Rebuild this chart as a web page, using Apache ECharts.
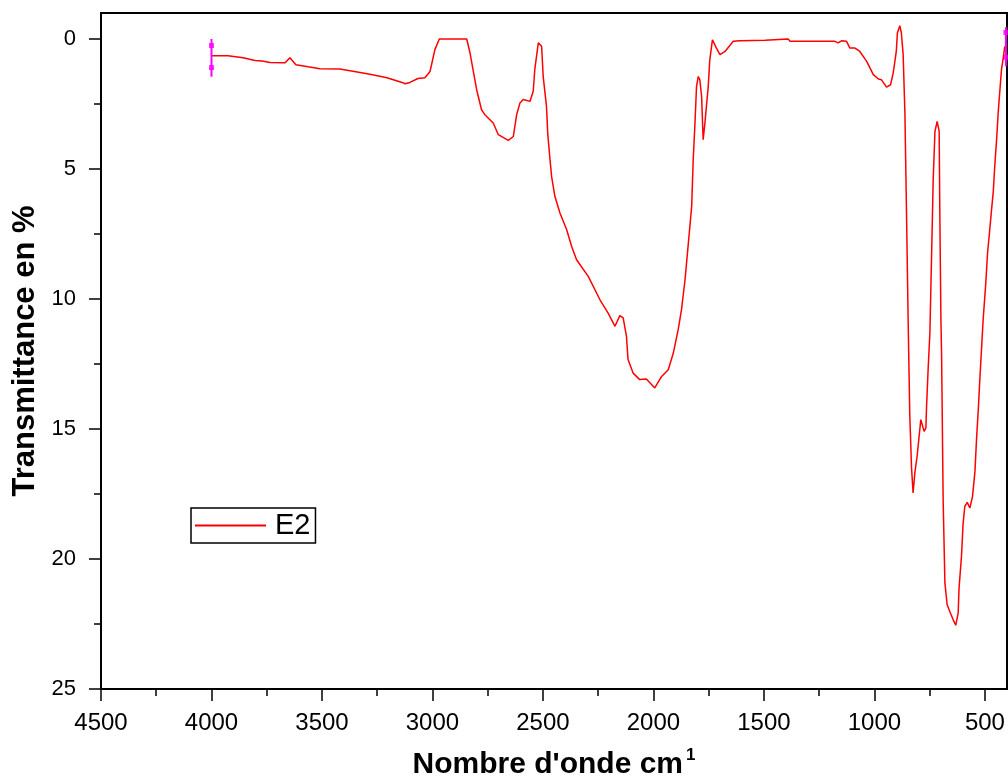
<!DOCTYPE html>
<html>
<head>
<meta charset="utf-8">
<title>Spectre IR E2</title>
<script src="https://cdn.jsdelivr.net/npm/echarts@6/dist/echarts.min.js"></script>
<style>
  html, body { margin: 0; padding: 0; background: #fff; }
  #chart { width: 1008px; height: 778px; }
</style>
</head>
<body>
<div id="chart"></div>
<script>
// nombre d'onde (cm-1)
const waveNumbers = [
  4000, 3925, 3857, 3803, 3771, 3735, 3667, 3645, 3618, 3563, 3509, 3419, 3373, 3283, 3206,
  3134, 3124, 3102, 3066, 3034, 3011, 2989, 2969, 2845, 2830, 2800, 2778, 2763, 2725, 2702,
  2657, 2634, 2619, 2604, 2589, 2559, 2544, 2537, 2521, 2506, 2499, 2484, 2478, 2468, 2461,
  2446, 2423, 2393, 2370, 2348, 2295, 2242, 2205, 2174, 2152, 2137, 2122, 2115, 2092, 2062,
  2032, 1994, 1963, 1933, 1910, 1888, 1873, 1857, 1842, 1827, 1820, 1812, 1805, 1797, 1790,
  1782, 1775, 1767, 1752, 1745, 1733, 1715, 1699, 1676, 1639, 1609, 1495, 1488, 1390, 1382,
  1179, 1164, 1149, 1126, 1111, 1088, 1066, 1035, 1005, 982, 968, 945, 927, 915, 901,
  896, 885, 878, 870, 862, 855, 847, 840, 832, 825, 817, 806, 797, 790, 782,
  775, 767, 764, 757, 749, 742, 734, 726, 716, 707, 704, 699, 696, 689, 681,
  671, 659, 644, 632, 621, 617, 606, 599, 591, 580, 568, 556, 545, 538, 530,
  523, 515, 508, 496, 488, 478, 470, 462, 455, 447, 440, 432, 425, 417, 410
];
// transmittance (%)
const transmittance = [
  0.64, 0.64, 0.72, 0.83, 0.85, 0.9, 0.91, 0.72, 0.99, 1.07, 1.14, 1.15, 1.22, 1.36, 1.49,
  1.68, 1.72, 1.67, 1.52, 1.49, 1.25, 0.41, 0.0, 0.0, 0.54, 1.95, 2.72, 2.91, 3.23, 3.68,
  3.9, 3.75, 2.91, 2.46, 2.33, 2.4, 2.01, 1.18, 0.15, 0.28, 1.44, 2.59, 3.68, 4.64, 5.28,
  6.05, 6.69, 7.33, 7.98, 8.49, 9.13, 10.03, 10.54, 11.05, 10.64, 10.73, 11.44, 12.33, 12.85, 13.1,
  13.08, 13.42, 12.98, 12.72, 12.08, 11.18, 10.41, 9.26, 7.85, 6.44, 4.64, 3.23, 1.82, 1.44, 1.57,
  2.21, 3.87, 3.23, 1.82, 0.8, 0.03, 0.35, 0.6, 0.48, 0.09, 0.07, 0.05, 0.0, 0.0, 0.09,
  0.09, 0.15, 0.07, 0.09, 0.35, 0.35, 0.48, 0.86, 1.37, 1.54, 1.57, 1.85, 1.76, 1.31, 0.48,
  -0.23, -0.51, -0.23, 0.6, 2.85, 6.57, 10.99, 14.45, 16.5, 17.46, 16.69, 15.99, 15.22, 14.64, 14.71,
  15.09, 14.96, 14.13, 12.72, 11.31, 8.62, 5.41, 3.55, 3.17, 3.55, 6.69, 10.8, 12.14, 17.72, 20.92,
  21.75, 22.02, 22.33, 22.55, 22.08, 21.12, 19.9, 18.68, 17.98, 17.82, 18.04, 17.59, 16.63, 15.41, 14.26,
  13.1, 11.88, 10.8, 9.39, 8.23, 7.33, 6.57, 5.86, 4.83, 3.87, 2.85, 1.95, 1.18, 0.73, 0.28
];

// curseurs magenta aux deux extremites
const cursorLeft = [[4000, 0], [4000, 1.45]];
const cursorRight = [[405, -0.45], [405, 1.05]];
const cursorMarks = [[4000, 0.25], [4000, 1.1], [405, -0.25], [405, 0.7]];

const xTicks = [500, 1000, 1500, 2000, 2500, 3000, 3500, 4000, 4500];
const xMinorTicks = [750, 1250, 1750, 2250, 2750, 3250, 3750, 4250];
const yTicks = [0, 5, 10, 15, 20, 25];
const yMinorTicks = [2.5, 7.5, 12.5, 17.5, 22.5];

const font = '"Liberation Sans", Arial, sans-serif';
const spectrum = waveNumbers.map((w, i) => [w, transmittance[i]]);

const chart = echarts.init(document.getElementById('chart'));

const axisBase = {
  type: 'value',
  splitLine: { show: false },
  axisLine: { show: true, onZero: false, lineStyle: { color: '#000', width: 2 } }
};

const minorAxis = {
  type: 'value',
  splitLine: { show: false },
  axisLine: { show: false, onZero: false },
  axisLabel: { show: false }
};

chart.setOption({
  animation: false,
  backgroundColor: '#fff',
  grid: {
    left: 101, right: 1, top: 13, bottom: 89,
    outerBoundsMode: 'none',
    show: true, borderColor: '#000', borderWidth: 2
  },
  legend: {
    data: ['E2'],
    icon: 'rect',
    left: 191, top: 508,
    padding: [3, 5, 3, 4],
    itemWidth: 71, itemHeight: 2,
    borderColor: '#000', borderWidth: 1.5, borderRadius: 0,
    textStyle: { fontSize: 29, color: '#000', fontFamily: font, padding: [0, 0, 0, 4] }
  },
  xAxis: [
    {
      ...axisBase,
      min: 400, max: 4500, inverse: true,
      axisTick: { show: true, length: 12, customValues: xTicks, lineStyle: { color: '#000', width: 1.5 } },
      axisLabel: {
        customValues: xTicks, fontSize: 24, color: '#000', fontFamily: font, margin: 22,
        formatter: (v) => String(v)
      },
      name: "Nombre d'onde cm{sup|1}",
      nameLocation: 'middle',
      nameGap: 58,
      nameTextStyle: {
        fontSize: 30, fontWeight: 'bold', color: '#000', fontFamily: font,
        rich: { sup: { fontSize: 17, fontWeight: 'bold', color: '#000', fontFamily: font, verticalAlign: 'top', padding: [0, 0, 18, 3] } }
      }
    },
    {
      ...minorAxis,
      min: 400, max: 4500, inverse: true,
      position: 'bottom',
      axisTick: { show: true, length: 7, customValues: xMinorTicks, lineStyle: { color: '#000', width: 1.5 } }
    }
  ],
  yAxis: [
    {
      ...axisBase,
      min: -1, max: 25, inverse: true,
      axisTick: { show: true, length: 12, customValues: yTicks, lineStyle: { color: '#000', width: 1.5 } },
      axisLabel: { customValues: yTicks, fontSize: 22, color: '#000', fontFamily: font, margin: 25 },
      name: 'Transmittance en %',
      nameLocation: 'middle',
      nameGap: 59,
      nameTextStyle: { fontSize: 31, fontWeight: 'bold', color: '#000', fontFamily: font }
    },
    {
      ...minorAxis,
      min: -1, max: 25, inverse: true,
      position: 'left',
      axisTick: { show: true, length: 7, customValues: yMinorTicks, lineStyle: { color: '#000', width: 1.5 } }
    }
  ],
  series: [
    {
      name: 'E2',
      type: 'line',
      data: spectrum,
      symbol: 'none',
      lineStyle: { color: '#ff0000', width: 1.5 },
      itemStyle: { color: '#ff0000' }
    },
    {
      name: 'curseur1',
      type: 'line',
      data: cursorLeft,
      symbol: 'none',
      clip: false,
      lineStyle: { color: '#ff00ff', width: 2 }
    },
    {
      name: 'curseur2',
      type: 'line',
      data: cursorRight,
      symbol: 'none',
      clip: false,
      lineStyle: { color: '#ff00ff', width: 2 }
    },
    {
      name: 'marques',
      type: 'scatter',
      data: cursorMarks,
      symbol: 'rect',
      symbolSize: 5,
      clip: false,
      itemStyle: { color: '#ff00ff' }
    }
  ]
});

window.addEventListener('resize', () => {
  chart.resize();
});
</script>
</body>
</html>
